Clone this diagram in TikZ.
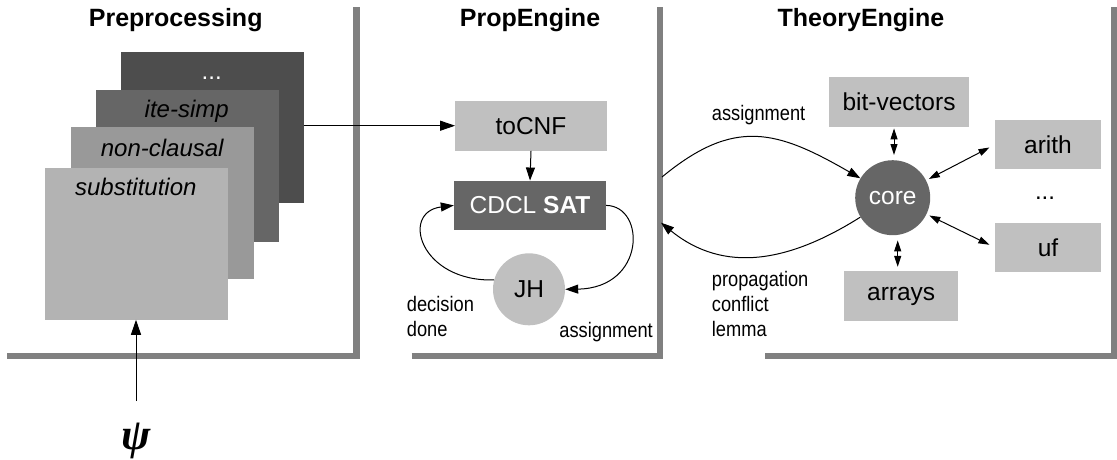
\documentclass[tikz,border=0pt]{standalone}
\usepackage{fontspec}
\setmainfont{Liberation Sans}
\newfontfamily\labelfont[FakeStretch=0.87]{Liberation Sans}
\newfontfamily\greekfont{Liberation Serif}
\usetikzlibrary{arrows.meta}

\definecolor{wallgray}{HTML}{808080}
\definecolor{lightbox}{HTML}{C0C0C0}
\definecolor{darkbox}{HTML}{666666}
\definecolor{stageA}{HTML}{B3B3B3}
\definecolor{stageB}{HTML}{999999}
\definecolor{stageC}{HTML}{666666}
\definecolor{stageD}{HTML}{4D4D4D}

\tikzset{
  wall/.style={line width=6.5pt, color=wallgray, line join=miter},
  title/.style={font=\fontsize{25}{30}\selectfont\bfseries, inner sep=0pt},
  stagebox/.style={rectangle, inner sep=0pt, minimum width=183pt, minimum height=151.5pt},
  stagetext/.style={font=\fontsize{24}{28}\selectfont\itshape, inner sep=0pt, anchor=base},
  module/.style={rectangle, fill=lightbox, inner sep=0pt, font=\fontsize{24.5}{28}\selectfont},
  roundnode/.style={circle, inner sep=0pt, minimum size=#1, font=\fontsize{24.5}{28}\selectfont},
  edgelabel/.style={font=\fontsize{21}{25}\selectfont\labelfont, inner sep=0pt, align=left},
  flow/.style={line width=1pt, -{Triangle[length=15pt,width=10pt]}},
  loop/.style={line width=1pt, -{Triangle[length=13pt,width=9pt]}},
  dbl/.style={line width=1pt, {Triangle[length=11pt,width=7pt]}-{Triangle[length=11pt,width=7pt]}},
}

\begin{document}
\begin{tikzpicture}[x=1pt,y=-1pt]
\useasboundingbox (0,0) rectangle (1117,459);

% panel walls
\draw[wall] (7,356) -- (356.7,356) -- (356.7,6.5);
\draw[wall] (411.7,356) -- (660,356) -- (660,6.5);
\draw[wall] (765,356) -- (1114,356) -- (1114,6.5);

% panel titles
\node[title, anchor=base] (tpre) at (175.7,26) {Preprocessing};
\node[title, anchor=base] (tprop) at (530,26) {PropEngine};
\node[title, anchor=base] (ttheory) at (861,26) {TheoryEngine};

% preprocessing stages, back to front
\node[stagebox, fill=stageD] (pre4) at (212,127.5) {};
\node[stagetext, text=white, font=\fontsize{24}{28}\selectfont] (pre4t) at (211.7,79) {...};
\node[stagebox, fill=stageC] (pre3) at (187.3,165.8) {};
\node[stagetext] (pre3t) at (186.7,117) {ite-simp};
\node[stagebox, fill=stageB] (pre2) at (162.3,203) {};
\node[stagetext] (pre2t) at (162.2,156) {non-clausal};
\node[stagebox, fill=stageA] (pre1) at (136,243.8) {};
\node[stagetext] (pre1t) at (135.8,195.5) {substitution};

% input formula
\node[inner sep=0pt, anchor=base, font=\fontsize{44}{48}\selectfont\greekfont\bfseries\itshape] (psi) at (136,449) {ψ};
\coordinate (psitop) at (136,401);
\draw[flow] (psitop) -- (pre1.south);

% propositional engine
\node[module, minimum width=151.4pt, minimum height=50pt] (tocnf) at (531,125.7) {toCNF};
\node[module, fill=darkbox, text=white, minimum width=152pt, minimum height=49.3pt] (cdcl) at (530,205.4) {CDCL \textbf{SAT}};
\node[roundnode=72pt, fill=lightbox] (jh) at (529,289.3) {JH};

\draw[flow] (pre4.east |- tocnf.west) -- (tocnf.west);
\draw[loop] (tocnf.south) -- (cdcl.north);
\draw[loop] (cdcl.east) .. controls (646,206) and (646,288) .. (jh.east);
\draw[loop] (jh.165) .. controls (420,282) and (400,212) .. (cdcl.west);

% multi-line labels are anchored at the baseline of their last line
\node[edgelabel, anchor=base west] (ldec) at (406.7,336) {decision\\done};
\node[edgelabel, anchor=base east] (lasg1) at (653,337) {assignment};

% theory engine
\node[roundnode=75pt, fill=darkbox, text=white] (core) at (892.7,197.7) {core};
\node[module, minimum width=140.6pt, minimum height=49.4pt] (bv) at (899,102) {bit-vectors};
\node[module, minimum width=106pt, minimum height=49.3pt] (arith) at (1048,144.7) {arith};
\node[module, minimum width=106pt, minimum height=49.3pt] (uf) at (1048,247.4) {uf};
\node[module, minimum width=114.3pt, minimum height=50pt] (arrays) at (901.2,296) {arrays};
\node[inner sep=0pt, anchor=base, font=\fontsize{24}{28}\selectfont] (tdots) at (1045,199) {...};

\coordinate (wallout) at (662,177);
\coordinate (wallin) at (661,222.7);
\draw[loop] (wallout) .. controls (734.5,117) and (777.2,130.3) .. (core.149);
\draw[loop] (core.211) .. controls (788.9,262.2) and (724.1,274) .. (wallin);

\node[edgelabel, anchor=base west] (lasg2) at (711.7,120) {assignment};
\node[edgelabel, anchor=base west] (lprop) at (711.7,336.7) {propagation\\conflict\\lemma};

\draw[dbl, shorten <=1.5pt, shorten >=5pt] ([xshift=1.3pt]core.north |- bv.south) -- ([xshift=1.3pt]core.north);
\draw[dbl, shorten <=5pt, shorten >=4pt] ([xshift=5pt]core.south) -- ([xshift=5pt]core.south |- arrays.north);
\draw[dbl, shorten <=3pt, shorten >=6pt] (core) -- (arith.west);
\draw[dbl, shorten <=3pt, shorten >=6pt] (core) -- (uf.west);
\end{tikzpicture}
\end{document}
